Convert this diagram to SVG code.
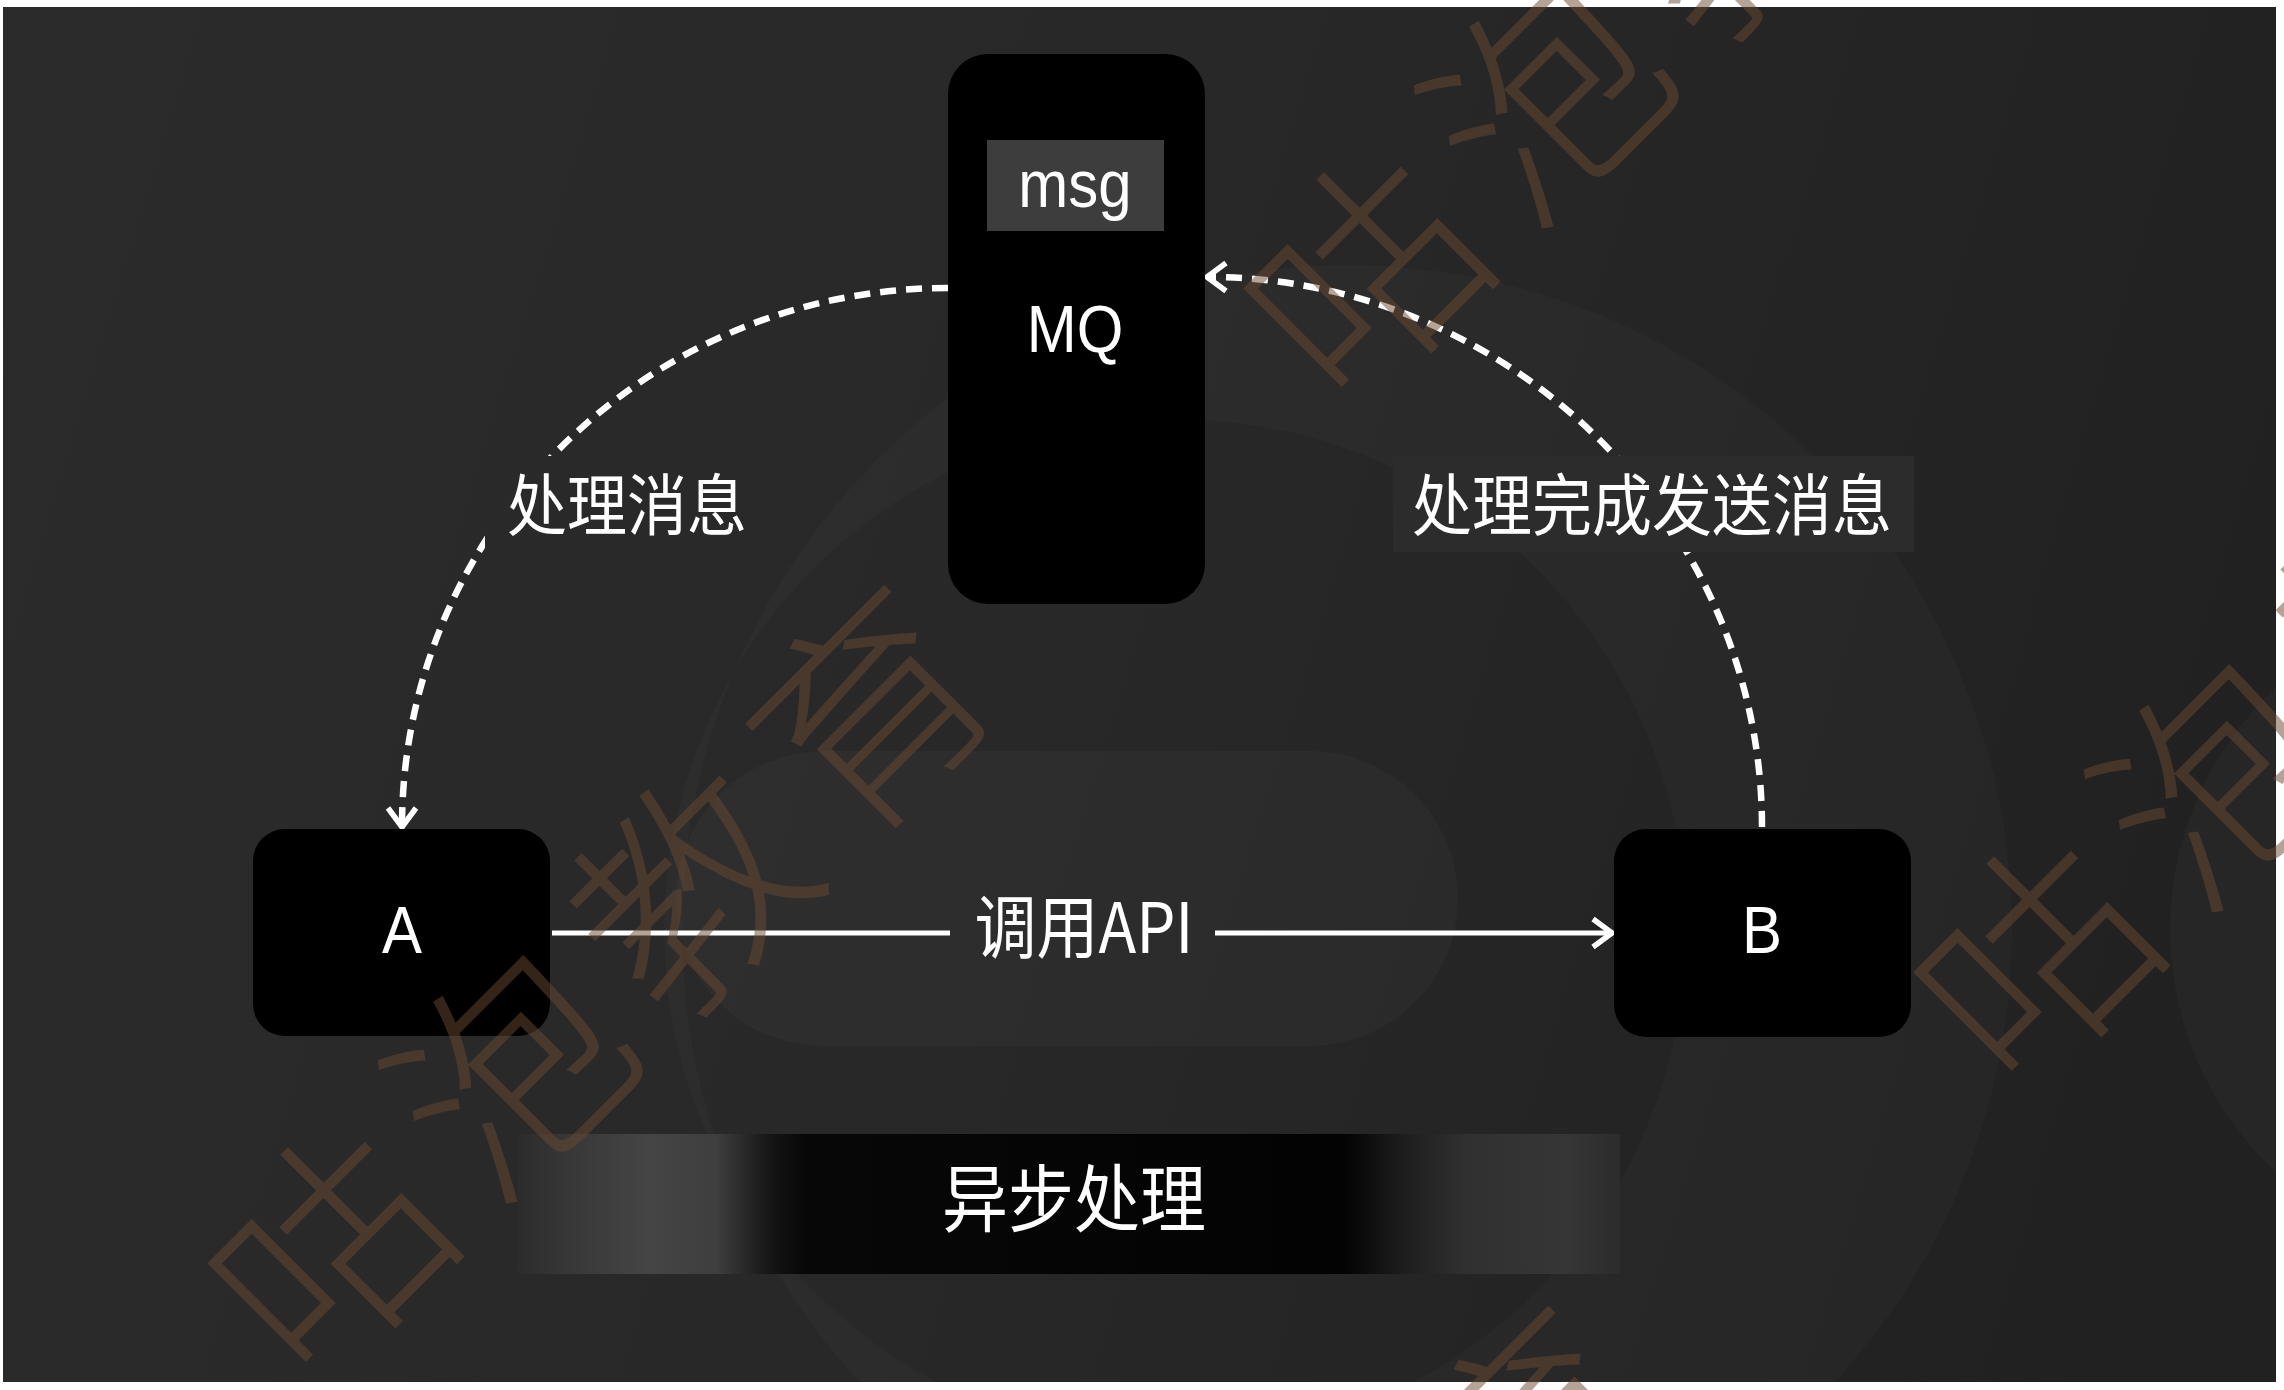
<svg xmlns="http://www.w3.org/2000/svg" width="2284" height="1390" viewBox="0 0 2284 1390">
<defs>
<style>
.box{fill:#000}
.lat{font-family:"Liberation Sans",Arial,sans-serif;fill:#fff;font-size:60px;text-anchor:middle}
.cjk{font-family:"Noto Sans CJK SC","Noto Sans CJK TC",sans-serif;fill:#fff;font-size:60px;text-anchor:middle}
.dash{fill:none;stroke:#fff;stroke-width:6.5;stroke-dasharray:16 10}
.solid{fill:none;stroke:#fff;stroke-width:5}
.lbg{fill:#2c2c2c}
.wm{font-family:"Noto Sans CJK SC",sans-serif;font-weight:300;font-size:225px;fill:#6a4a30;fill-opacity:0.5;text-anchor:middle;letter-spacing:30px}
</style>
<linearGradient id="bg" x1="3" y1="7" x2="2276" y2="690" gradientUnits="userSpaceOnUse">
<stop offset="0" stop-color="#2b2b2b"/>
<stop offset="0.5" stop-color="#282828"/>
<stop offset="1" stop-color="#212121"/>
</linearGradient>
<linearGradient id="band" x1="518" y1="0" x2="1620" y2="0" gradientUnits="userSpaceOnUse">
<stop offset="0" stop-color="#2c2c2c"/>
<stop offset="0.05" stop-color="#383838"/>
<stop offset="0.12" stop-color="#454545"/>
<stop offset="0.18" stop-color="#3e3e3e"/>
<stop offset="0.23" stop-color="#151515"/>
<stop offset="0.26" stop-color="#070707"/>
<stop offset="0.75" stop-color="#030303"/>
<stop offset="0.80" stop-color="#1c1c1c"/>
<stop offset="0.86" stop-color="#303030"/>
<stop offset="0.95" stop-color="#363636"/>
<stop offset="1" stop-color="#2c2c2c"/>
</linearGradient>
<marker id="chev" markerUnits="userSpaceOnUse" markerWidth="44" markerHeight="44" viewBox="-26 -22 32 44" refX="0" refY="0" orient="auto">
<path d="M-19,-14 L0,0 L-19,14" fill="none" stroke="#fff" stroke-width="5.5" stroke-linejoin="miter" stroke-dasharray="none"/>
</marker>
</defs>
<rect x="0" y="0" width="2284" height="1390" fill="#fff"/>
<rect x="3" y="7" width="2273" height="1375" fill="url(#bg)"/>
<g id="backdrop" fill="#fff">
<rect x="676" y="751" width="782" height="295" rx="148" fill-opacity="0.025"/>
<path d="M682,930 a665,665 0 1,0 1330,0 a665,665 0 1,0 -1330,0 Z M664,930 a511,511 0 1,0 1022,0 a511,511 0 1,0 -1022,0 Z" fill-rule="evenodd" fill-opacity="0.02"/>
<circle cx="2500" cy="930" r="330" fill-opacity="0.025"/>
</g>
<g id="banner">
<rect x="518" y="1134" width="1102" height="140" fill="url(#band)"/>
<text class="cjk" style="font-size:66px" transform="translate(1074 1226) scale(1 1.12)">异步处理</text>
</g>
<g id="connectors">
<path id="c-mq-a" class="dash" d="M948,288 C648,288 402,529 402,827" marker-end="url(#chev)"/>
<path id="c-b-mq" class="dash" d="M1762,827 C1762,525 1511,277 1207,277" marker-end="url(#chev)"/>
<path id="c-a-b-1" class="solid" d="M552,933 L950,933"/>
<path id="c-a-b-2" class="solid" d="M1215,933 L1612,933" marker-end="url(#chev)"/>
<rect x="485" y="456" width="283" height="96" fill="url(#bg)"/>
<text class="cjk" transform="translate(627 530) scale(1 1.12)">处理消息</text>
<rect class="lbg" x="1393" y="456" width="521" height="96"/>
<text class="cjk" transform="translate(1652 530) scale(1 1.12)">处理完成发送消息</text>
<text class="cjk" style="font-size:62px" transform="translate(1084 953) scale(1 1.12)">调用API</text>
</g>
<g id="node-mq">
<rect class="box" x="948" y="54" width="257" height="550" rx="40"/>
<rect x="987" y="140" width="177" height="91" fill="#3d3d3d"/>
<text class="lat" transform="translate(1075 207) scale(1 1.12)">msg</text>
<text class="lat" transform="translate(1075 352) scale(1 1.12)">MQ</text>
</g>
<g id="node-a">
<rect class="box" x="253" y="829" width="297" height="207" rx="32"/>
<text class="lat" transform="translate(402 953) scale(1 1.12)">A</text>
</g>
<g id="node-b">
<rect class="box" x="1614" y="829" width="297" height="208" rx="32"/>
<text class="lat" transform="translate(1762 953) scale(1 1.12)">B</text>
</g>
<g id="watermark">
<text class="wm" transform="translate(615 975) rotate(-45)" y="78">咕泡教育</text>
<text class="wm" transform="translate(1651 0) rotate(-45)" y="78">咕泡教育</text>
<text class="wm" transform="translate(2321 684) rotate(-45)" y="78">咕泡教育</text>
<text class="wm" transform="translate(1279 1696) rotate(-45)" y="78">咕泡教育</text>
</g>
</svg>
